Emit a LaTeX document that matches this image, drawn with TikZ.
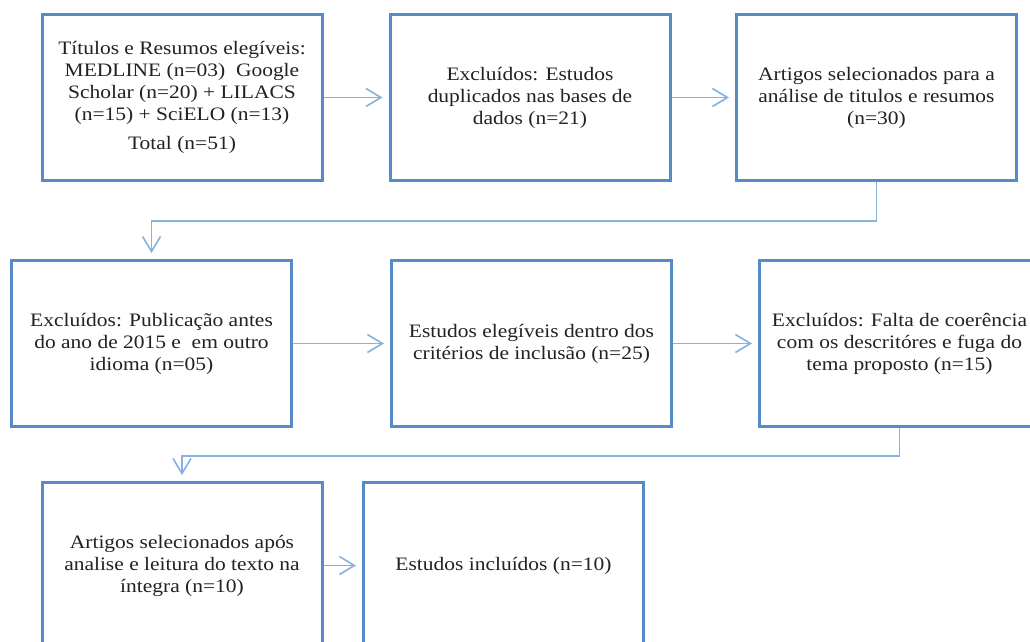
\documentclass[tikz,border=0pt]{standalone}
\usepackage{fontspec}
\setmainfont{Liberation Serif}[FakeStretch=1.13]
\usepackage{tikz}
\usetikzlibrary{arrows.meta,positioning}
\definecolor{caixaAzul}{HTML}{568AC8}
\definecolor{setaAzul}{HTML}{86B1E0}
\definecolor{textoEscuro}{HTML}{222222}

\tikzset{
  caixa/.style={draw=caixaAzul,line width=3pt,fill=white,minimum width=280pt,minimum height=166pt,
    align=center,text=textoEscuro,font=\fontsize{19}{22}\selectfont,inner sep=0pt},
  seta/.style={draw=setaAzul,line width=1.6pt,-{Straight Barb[length=15pt,width=18pt]},shorten >=6pt}
}

\begin{document}
\begin{tikzpicture}[x=1pt,y=-1pt]
\useasboundingbox (0,0) rectangle (1030,642);
\clip (0,0) rectangle (1030,642);
% primeira linha
\node[caixa] (titulos) at (182,97.5) {Títulos e Resumos elegíveis:\\MEDLINE (n=03) \ Google\\Scholar (n=20) + LILACS\\(n=15) + SciELO (n=13)\\[7pt]Total (n=51)};
\node[caixa] (duplicados) at (530,97.5) {Excluídos: Estudos\\duplicados nas bases de\\dados (n=21)};
\node[caixa] (selecionados) at (876.5,97.5) {Artigos selecionados para a\\análise de titulos e resumos\\(n=30)};
% segunda linha
\node[caixa] (publicacao) at (151.5,343.5) {Excluídos: Publicação antes\\do ano de 2015 e \ em outro\\idioma (n=05)};
\node[caixa] (elegiveis) at (531.5,343.5) {Estudos elegíveis dentro dos\\critérios de inclusão (n=25)};
\node[caixa] (coerencia) at (899.5,343.5) {Excluídos: Falta de coerência\\com os descritóres e fuga do\\tema proposto (n=15)};
% terceira linha
\node[caixa] (leitura) at (182,565.5) {Artigos selecionados após\\analise e leitura do texto na\\íntegra (n=10)};
\node[caixa] (incluidos) at (503.5,565.5) {Estudos incluídos (n=10)};

\draw[seta] (titulos) -- (duplicados);
\draw[seta] (duplicados) -- (selecionados);
\draw[seta] (selecionados.south) -- ++(0,39) -| (publicacao.north);
\draw[seta] (publicacao) -- (elegiveis);
\draw[seta] (elegiveis) -- (coerencia);
\draw[seta] (coerencia.south) -- ++(0,28) -| (leitura.north);
\draw[seta] (leitura) -- (incluidos);
\end{tikzpicture}
\end{document}
